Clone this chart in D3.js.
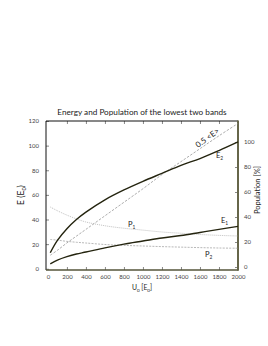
<!DOCTYPE html>
<html><head><meta charset="utf-8">
<script src="https://cdn.jsdelivr.net/npm/d3@7"></script>
<style>body{margin:0;background:#fff}svg{display:block}text{font-family:Lato,"DejaVu Sans",sans-serif}</style>
</head><body>
<script>
const U      = [25, 100, 200, 300, 400, 600, 800, 1000, 1200, 1400, 1600, 1800, 2000];
const E2     = [13, 23, 32.5, 40, 46, 56, 64, 71, 77.5, 84, 89.5, 96, 103];
const E1     = [4, 7, 9.8, 12, 13.6, 17, 20, 22.5, 25, 27, 29.5, 32, 34.4];
const halfE  = [11, 15, 21, 26.5, 32, 43, 54, 65, 76.5, 87, 97.5, 108, 118];
const P1     = [48, 45, 41.5, 38.5, 36, 33, 31, 29.5, 28, 27, 26, 25.3, 24.8];
const P2     = [22, 21.5, 20.5, 19.8, 19.2, 18, 17.3, 16.8, 16.3, 15.9, 15.5, 15.2, 15];
const xTicks = [0, 200, 400, 600, 800, 1000, 1200, 1400, 1600, 1800, 2000];
const yTicks = [0, 20, 40, 60, 80, 100, 120];
const pTicks = [0, 20, 40, 60, 80, 100];

const W = 268, H = 346;
const L = 46, R = 238, T = 121, B = 270;
const svg = d3.select("body").append("svg").attr("width", W).attr("height", H);

const x = d3.scaleLinear().domain([-20, 2000]).range([L, R]);
const y = d3.scaleLinear().domain([-1, 120]).range([B, T]);
const yp = d3.scaleLinear().domain([-2.4, 116.8]).range([B, T]);

const tickCol = "#444";
const fmt = d3.format("d");
// axes
const gx = svg.append("g").attr("transform", `translate(0,${B})`)
  .call(d3.axisBottom(x).tickValues(xTicks).tickSize(-3).tickPadding(5).tickFormat(fmt));
const gt = svg.append("g").attr("transform", `translate(0,${T})`)
  .call(d3.axisTop(x).tickValues(xTicks).tickSize(-3).tickFormat(""));
const gl = svg.append("g").attr("transform", `translate(${L},0)`)
  .call(d3.axisLeft(y).tickValues(yTicks).tickSize(-3).tickPadding(7).tickFormat(fmt));
const gr = svg.append("g").attr("transform", `translate(${R},0)`)
  .call(d3.axisRight(yp).tickValues(pTicks).tickSize(-3).tickPadding(6).tickFormat(fmt));
[gx, gt, gl, gr].forEach(g => {
  g.selectAll("text").attr("fill", tickCol).style("font-size", "6px");
  g.selectAll(".tick line").attr("stroke", "#555").attr("stroke-width", 0.7);
  g.select(".domain").remove();
});
gt.selectAll(".tick").filter(d => d === 0 || d === 2000).remove();
gx.selectAll(".tick line").filter(d => d === 0 || d === 2000).remove();

// frame
svg.append("line").attr("x1", L).attr("x2", R).attr("y1", T).attr("y2", T).attr("stroke", "#111").attr("stroke-width", 1);
svg.append("line").attr("x1", L).attr("x2", L).attr("y1", T).attr("y2", B).attr("stroke", "#111").attr("stroke-width", 1);
svg.append("line").attr("x1", L).attr("x2", R).attr("y1", B).attr("y2", B).attr("stroke", "#55553a").attr("stroke-width", 1.4);
svg.append("line").attr("x1", R).attr("x2", R).attr("y1", T - 0.5).attr("y2", B + 0.7).attr("stroke", "#66664a").attr("stroke-width", 2);

const lineE = d3.line().x((d, i) => x(U[i])).y(d => y(d)).curve(d3.curveCatmullRom);
const lineP = d3.line().x((d, i) => x(U[i])).y(d => yp(d)).curve(d3.curveCatmullRom);

svg.append("path").attr("d", lineE(halfE)).attr("fill", "none").attr("stroke", "#8a8a8a").attr("stroke-width", 0.7).attr("stroke-dasharray", "2.5,1.5");
svg.append("path").attr("d", lineP(P1)).attr("fill", "none").attr("stroke", "#b0b0b0").attr("stroke-width", 0.8).attr("stroke-dasharray", "1,1");
svg.append("path").attr("d", lineP(P2)).attr("fill", "none").attr("stroke", "#9a9a9a").attr("stroke-width", 0.7).attr("stroke-dasharray", "2,1.2");
svg.append("path").attr("d", lineE(E2)).attr("fill", "none").attr("stroke", "#24240f").attr("stroke-width", 1.4);
svg.append("path").attr("d", lineE(E1)).attr("fill", "none").attr("stroke", "#24240f").attr("stroke-width", 1.4);

// labels
function lab(txt, sub, px, py, size, rot) {
  const t = svg.append("text").attr("x", px).attr("y", py).attr("fill", "#222").style("font-size", size + "px");
  if (rot) t.attr("transform", `rotate(${rot},${px},${py})`);
  t.append("tspan").text(txt);
  if (sub) t.append("tspan").text(sub).attr("dy", 1.5).style("font-size", (size * 0.65) + "px");
  return t;
}
lab("E", "2", 216, 158, 7.5);
lab("E", "1", 221, 223, 7.5);
lab("P", "1", 128, 227, 7.5);
lab("P", "2", 205, 257, 7.5);
svg.append("text").attr("x", 0).attr("y", 0).attr("transform", "translate(198,148) rotate(-36)")
  .attr("fill", "#222").style("font-size", "8px").text("0.5 <E>");

svg.append("text").attr("x", 142).attr("y", 115).attr("text-anchor", "middle").attr("fill", "#222")
  .style("font-size", "8.2px").text("Energy and Population of the lowest two bands");

// x label
const xl = svg.append("text").attr("x", 142).attr("y", 290).attr("text-anchor", "middle").attr("fill", "#222").style("font-size", "6.8px");
xl.append("tspan").text("U");
xl.append("tspan").text("0").attr("dy", 1.5).style("font-size", "4.5px");
xl.append("tspan").text(" [E").attr("dy", -1.5);
xl.append("tspan").text("0").attr("dy", 1.5).style("font-size", "4.5px");
xl.append("tspan").text("]").attr("dy", -1.5);

// y label left
const yl = svg.append("text").attr("transform", "translate(24,195) rotate(-90)").attr("text-anchor", "middle").attr("fill", "#222").style("font-size", "8.5px");
yl.append("tspan").text("E (E");
yl.append("tspan").text("0").attr("dy", 2).style("font-size", "5.5px");
yl.append("tspan").text(")").attr("dy", -2);

// y label right
svg.append("text").attr("transform", "translate(260,190) rotate(-90)").attr("text-anchor", "middle").attr("fill", "#222")
  .style("font-size", "7.5px").text("Population  [%]");
</script>
</body></html>
